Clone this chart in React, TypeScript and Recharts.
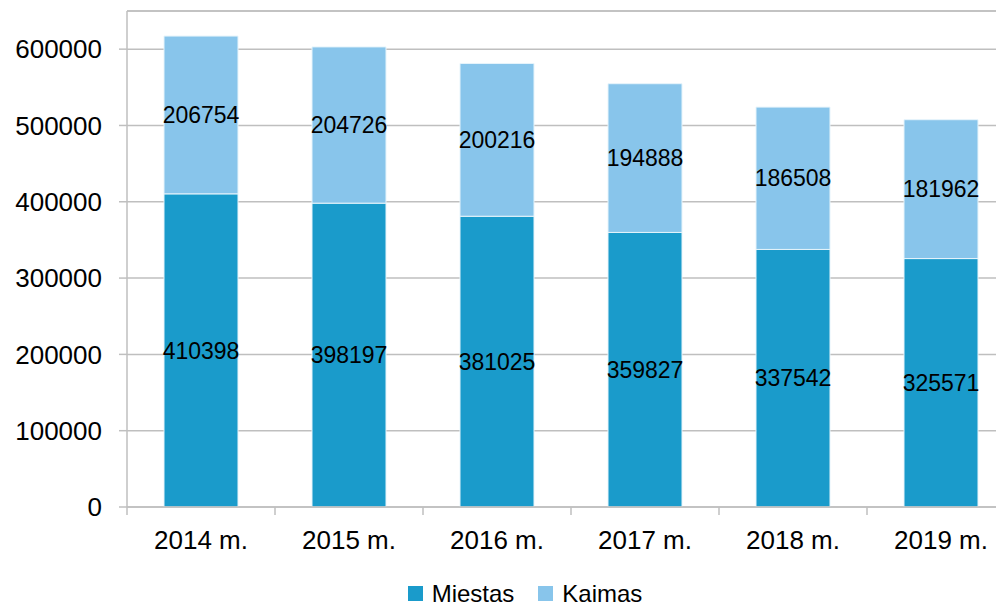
import { BarChart, Bar, XAxis, YAxis, CartesianGrid, Legend, LabelList, ReferenceLine } from 'recharts';

const YEARS = ['2014 m.', '2015 m.', '2016 m.', '2017 m.', '2018 m.', '2019 m.'];
const MIESTAS = [410398, 398197, 381025, 359827, 337542, 325571];
const KAIMAS = [206754, 204726, 200216, 194888, 186508, 181962];
const Y_TICKS = [0, 100000, 200000, 300000, 400000, 500000, 600000];
const Y_MAX = 650000;

const DARK = '#1a9bcb';
const LIGHT = '#88c5eb';
const GRID = '#bfbfbf';

const SERIES = [
  { name: 'Miestas', color: DARK },
  { name: 'Kaimas', color: LIGHT },
];

const data = YEARS.map((year, i) => ({ year, miestas: MIESTAS[i], kaimas: KAIMAS[i] }));

function YearTick(props: any) {
  const { x, y, payload } = props;
  const half = payload?.offset ?? 74;
  return (
    <g>
      <line x1={x - half} x2={x - half} y1={y - 8} y2={y} stroke={GRID} strokeWidth={1.5} />
      <text x={x} y={y + 34} textAnchor="middle" fontSize={26} fill="#000">
        {payload.value}
      </text>
    </g>
  );
}

function LegendBox() {
  return (
    <div style={{ display: 'flex', justifyContent: 'center', alignItems: 'center', height: 37, paddingTop: 16, boxSizing: 'border-box' }}>
      {SERIES.map((s) => (
        <div key={s.name} style={{ display: 'flex', alignItems: 'center', margin: '0 12px', height: 20 }}>
          <span style={{ width: 15, height: 15, background: s.color, marginRight: 9, display: 'inline-block' }} />
          <span style={{ fontSize: 24, lineHeight: '20px', color: '#000' }}>{s.name}</span>
        </div>
      ))}
    </div>
  );
}

export default function App() {
  return (
    <div style={{ position: 'fixed', left: 0, top: 0, width: 996, height: 604, overflow: 'hidden', background: '#fff', fontFamily: '"Liberation Sans", Arial, sans-serif' }}>
      <BarChart width={1030} height={604} data={data} margin={{ top: 11, right: 15, bottom: 0, left: 0 }} barCategoryGap="25%">
        <CartesianGrid vertical={false} stroke={GRID} strokeWidth={1.5} />
        <ReferenceLine y={Y_MAX} stroke={GRID} strokeWidth={1.5} />
        <XAxis
          dataKey="year"
          height={60}
          tickSize={8}
          tickMargin={0}
          tickLine={false}
          axisLine={{ stroke: GRID, strokeWidth: 1.5 }}
          tick={<YearTick />}
          interval={0}
        />
        <YAxis
          width={127}
          domain={[0, Y_MAX]}
          ticks={Y_TICKS}
          allowDataOverflow
          tickSize={8}
          tickMargin={17}
          tickLine={{ stroke: GRID, strokeWidth: 1.5 }}
          axisLine={{ stroke: GRID, strokeWidth: 1.5 }}
          tick={{ fontSize: 26, fill: '#000' }}
        />
        <Legend
          verticalAlign="bottom"
          content={<LegendBox />}
          wrapperStyle={{ left: 0, width: 1050, bottom: 0, height: 37 }}
        />
        <Bar dataKey="miestas" name="Miestas" stackId="a" fill={DARK} stroke="#e6f4fb" strokeWidth={1} isAnimationActive={false}>
          <LabelList dataKey="miestas" position="center" fill="#000" fontSize={23} />
        </Bar>
        <Bar dataKey="kaimas" name="Kaimas" stackId="a" fill={LIGHT} stroke="#e6f4fb" strokeWidth={1} isAnimationActive={false}>
          <LabelList dataKey="kaimas" position="center" fill="#000" fontSize={23} />
        </Bar>
      </BarChart>
    </div>
  );
}
